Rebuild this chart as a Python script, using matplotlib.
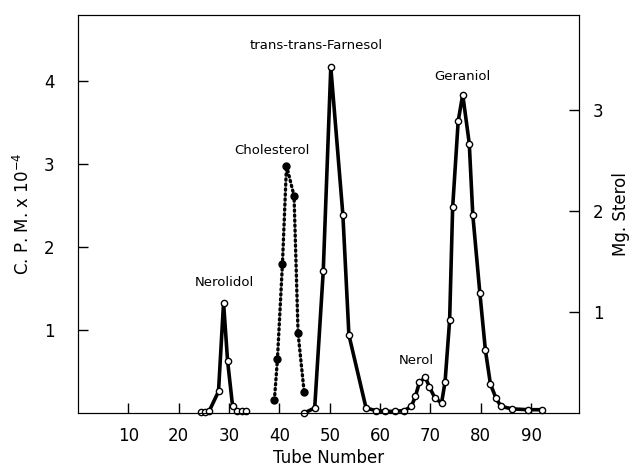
import matplotlib.pyplot as plt

# Radioactivity (C.P.M. x 10^-4), open circles, solid line
nerolidol_tube = [24.5, 25.3, 26.1, 27.9, 28.9, 29.7, 30.7, 31.6, 32.6, 33.4]
nerolidol_cpm = [0.01, 0.01, 0.03, 0.26, 1.33, 0.63, 0.08, 0.03, 0.02, 0.02]

main_tube = [44.9, 47.0, 48.7, 50.2, 52.6, 53.8, 57.2, 59.1, 60.9, 62.9, 64.8,
             66.2, 67.0, 67.8, 69.0, 69.8, 70.9, 72.2, 72.9, 73.8, 74.4, 75.5,
             76.4, 77.7, 78.4, 79.8, 80.9, 81.9, 83.0, 84.0, 86.2, 89.3, 92.1]
main_cpm = [0.0, 0.06, 1.71, 4.17, 2.39, 0.94, 0.06, 0.03, 0.02, 0.02, 0.03,
            0.08, 0.20, 0.37, 0.43, 0.31, 0.18, 0.12, 0.38, 1.12, 2.48, 3.52,
            3.84, 3.25, 2.39, 1.45, 0.76, 0.35, 0.18, 0.08, 0.05, 0.04, 0.04]

# Cholesterol (mg sterol), filled circles, dotted line
chol_tube = [39.0, 39.6, 40.6, 41.4, 42.9, 43.7, 44.9]
chol_mg = [0.13, 0.53, 1.48, 2.45, 2.15, 0.79, 0.21]

labels = ['Nerolidol', 'Cholesterol', 'trans-trans-Farnesol', 'Nerol', 'Geraniol']
label_x = [29.0, 38.5, 47.2, 67.2, 76.3]
label_y = [1.57, 3.17, 4.43, 0.63, 4.06]

fig = plt.figure(figsize=(6.37, 4.71), dpi=100)
ax = fig.add_axes([0.1225, 0.1231, 0.7865, 0.845])
ax2 = ax.twinx()

for t, c in [(nerolidol_tube, nerolidol_cpm), (main_tube, main_cpm)]:
    ax.plot(t, c, color='black', linewidth=2.6, marker='o', markersize=4.5,
            markerfacecolor='white', markeredgecolor='black', markeredgewidth=1,
            clip_on=False, zorder=3)

ax2.plot(chol_tube, chol_mg, color='black', linewidth=2.4, linestyle=(0, (0.4, 1.1)),
         dash_capstyle='round', marker='o', markersize=5, clip_on=False)

for s, x, y in zip(labels, label_x, label_y):
    ax.text(x, y, s, ha='center', va='center', fontsize=9.5)

ax.set_xlim(0, 99.5)
ax.set_ylim(0, 4.8)
ax2.set_ylim(0, 3.94)
ax.set_xticks(range(10, 100, 10))
ax.set_yticks([1, 2, 3, 4])
ax2.set_yticks([1, 2, 3])
for a in (ax, ax2):
    a.tick_params(direction='in', length=7, width=1, labelsize=12)
ax.tick_params(axis='x', pad=10)
ax.tick_params(axis='y', pad=17)
ax2.tick_params(axis='y', pad=10)

ax.set_xlabel('Tube Number', fontsize=12, labelpad=3)
ax.set_ylabel('C. P. M. x 10$^{-4}$', fontsize=12, labelpad=8)
ax2.set_ylabel('Mg. Sterol', fontsize=12, labelpad=6)

plt.savefig('out.png', dpi=100)
